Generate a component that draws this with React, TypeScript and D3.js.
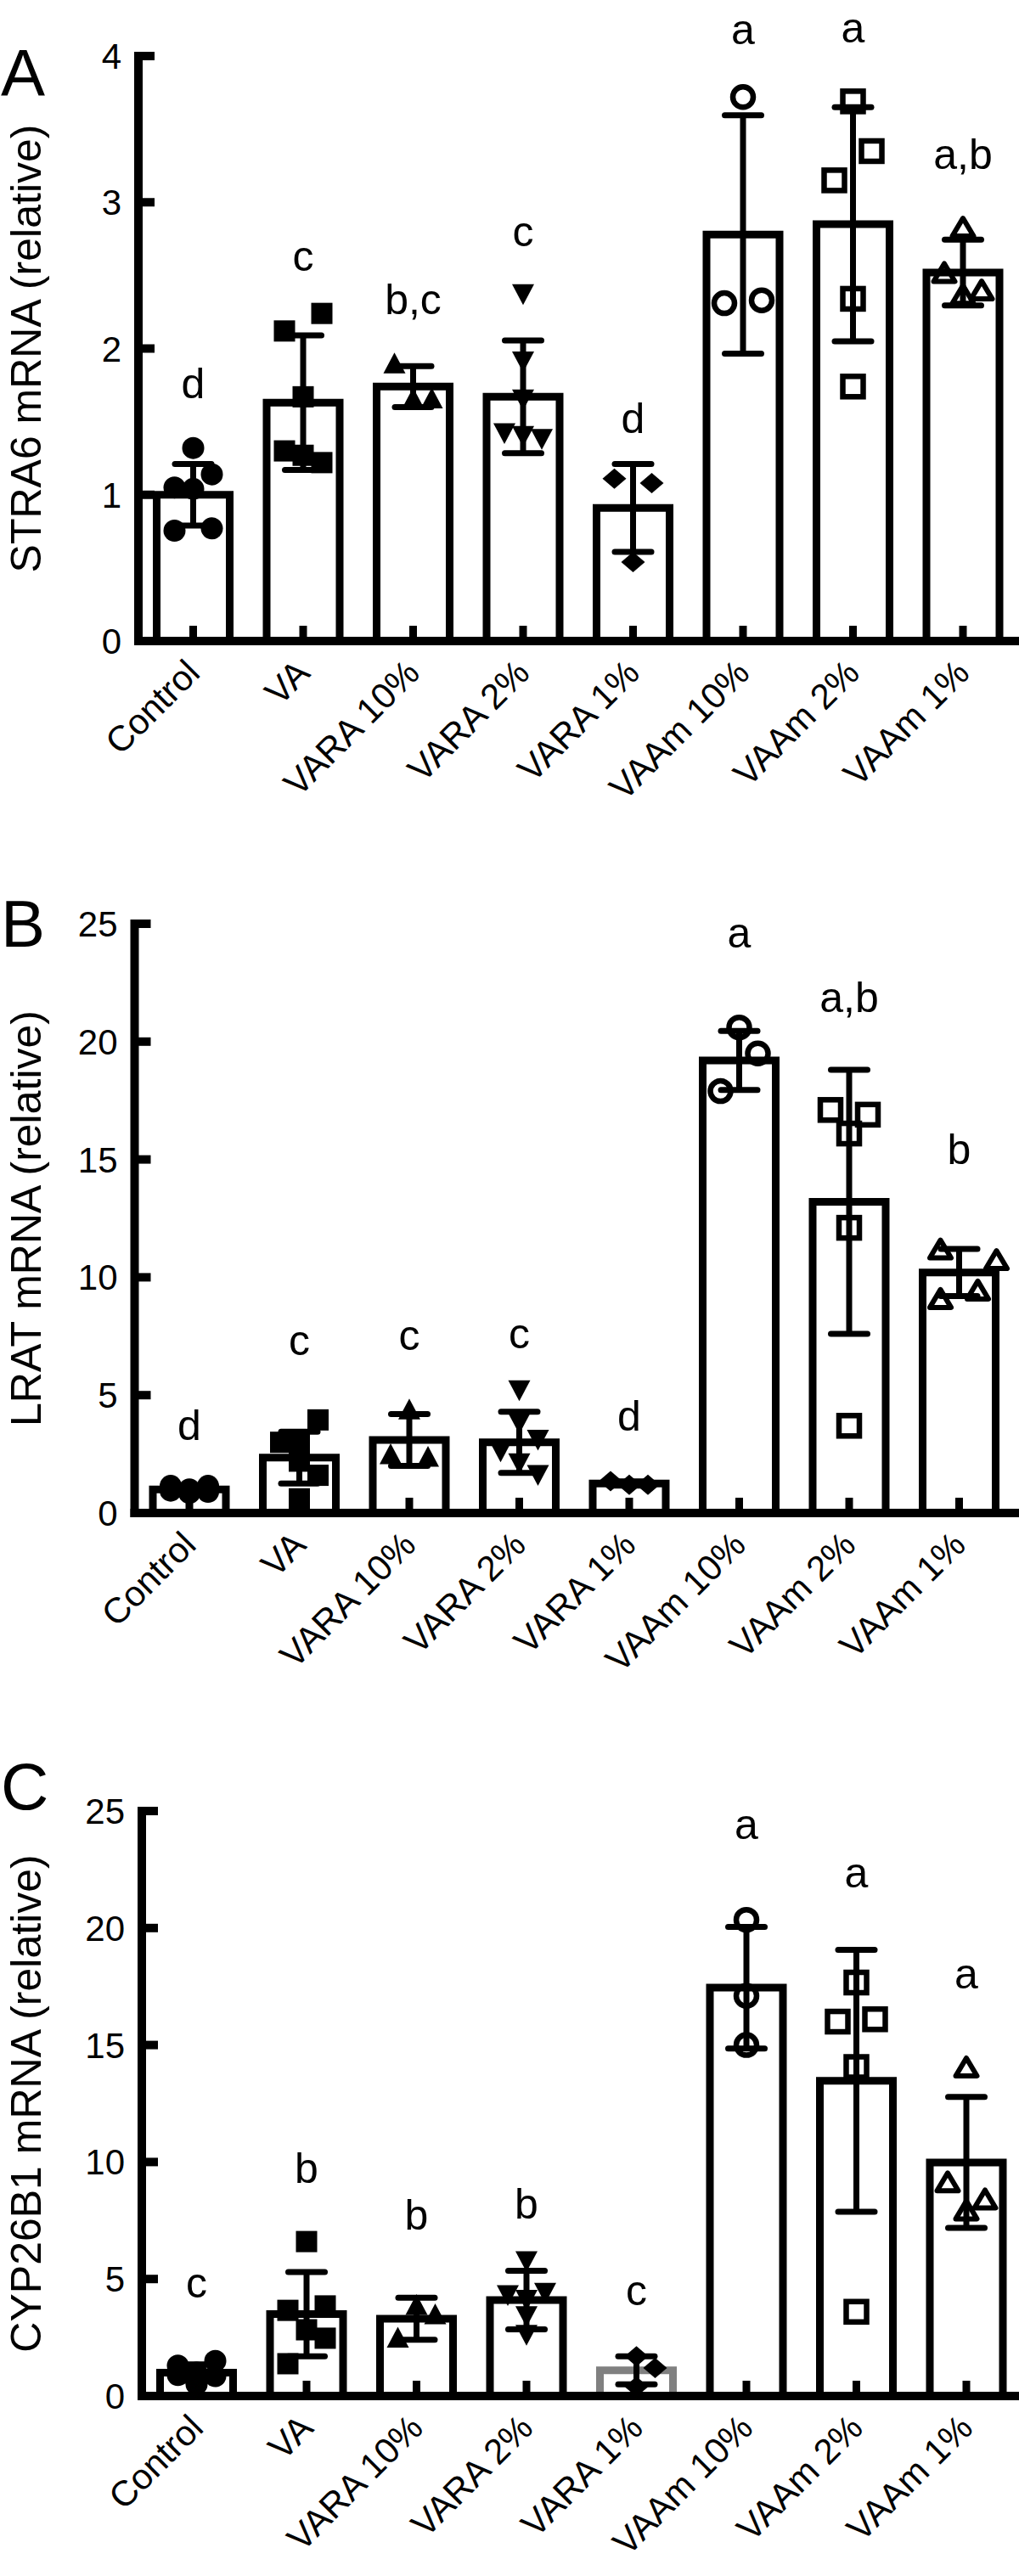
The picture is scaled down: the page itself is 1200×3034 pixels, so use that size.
import React from "react";
import * as d3 from "d3";

const categories = ["Control", "VA", "VARA 10%", "VARA 2%", "VARA 1%", "VAAm 10%", "VAAm 2%", "VAAm 1%"];
const markerKinds = ["circle", "square", "triUp", "triDown", "diamond", "openCircle", "openSquare", "openTriUp"];

// Panel A: STRA6
const stra6Ticks = [0, 1, 2, 3, 4];
const stra6Mean = [1.0, 1.63, 1.74, 1.67, 0.91, 2.78, 2.85, 2.52];
const stra6Sd = [0.21, 0.46, 0.14, 0.385, 0.3, 0.815, 0.8, 0.225];
const stra6Points = [
  [1.32, 1.14, 1.05, 1.04, 0.755, 0.77],
  [2.12, 2.24, 1.67, 1.3, 1.27, 1.22],
  [1.9, 1.66, 1.66],
  [2.37, 1.91, 1.65, 1.42, 1.4, 1.38],
  [1.11, 1.08, 0.54],
  [3.72, 2.31, 2.33],
  [3.69, 3.35, 3.15, 2.34, 1.74],
  [2.83, 2.52, 2.4, 2.37],
];
const stra6Slots = [
  [0, 1, -1, 0, -1, 1],
  [-1, 1, 0, -1, 0, 1],
  [-1, 0, 1],
  [0, 0, 0, -1, 0, 1],
  [-1, 1, 0],
  [0, -1, 1],
  [0, 1, -1, 0, 0],
  [0, -1, 1, 0],
];
const stra6Letters = ["d", "c", "b,c", "c", "d", "a", "a", "a,b"];
const stra6LetterAt = [1.66, 2.53, 2.235, 2.7, 1.42, 4.08, 4.09, 3.23];

// Panel B: LRAT
const lratTicks = [0, 5, 10, 15, 20, 25];
const lratMean = [1.0, 2.35, 3.1, 3.0, 1.25, 19.2, 13.2, 10.2];
const lratSd = [0.15, 1.1, 1.1, 1.3, 0.09, 1.25, 5.6, 1.0];
const lratPoints = [
  [1.15, 1.15, 1.0, 0.95, 0.9, 0.85],
  [3.95, 3.0, 2.9, 2.2, 1.6, 0.6],
  [4.4, 2.5, 2.4],
  [5.2, 3.8, 3.1, 2.6, 2.1, 1.6],
  [1.35, 1.2, 1.2],
  [20.6, 19.5, 17.9],
  [17.1, 16.9, 16.1, 12.1, 3.7],
  [11.2, 10.75, 9.46, 9.1],
];
const lratSlots = [
  [-1, 1, 0, -1, 1, 0],
  [1, -1, 0, 0, 1, 0],
  [0, -1, 1],
  [0, 0, 1, -1, 0, 1],
  [-1, 0, 1],
  [0, 1, -1],
  [-1, 1, 0, 0, 0],
  [-1, 2, 1, -1],
];
const lratLetters = ["d", "c", "c", "c", "d", "a", "a,b", "b"];
const lratLetterAt = [3.1, 6.7, 6.9, 7.0, 3.5, 24.0, 21.25, 14.8];

// Panel C: CYP26B1
const cypTicks = [0, 5, 10, 15, 20, 25];
const cypMean = [1.0, 3.5, 3.3, 4.1, 1.1, 17.45, 13.47, 9.98];
const cypSd = [0.35, 1.8, 0.9, 1.25, 0.6, 2.6, 5.6, 2.8];
const cypPoints = [
  [1.3, 1.5, 1.0, 0.9, 0.85, 0.5],
  [6.6, 3.66, 3.85, 2.83, 2.47, 1.38],
  [3.9, 3.5, 2.5],
  [5.75, 4.4, 4.3, 4.1, 3.4, 2.6],
  [1.7, 1.2, 0.4],
  [20.35, 17.1, 15.0],
  [17.67, 16.0, 16.1, 14.06, 3.6],
  [14.06, 9.15, 8.42, 7.95],
];
const cypSlots = [
  [-1, 1, 0, -1, 1, 0],
  [0, -1, 1, 0, 1, -1],
  [0, 1, -1],
  [0, 1, -1, 0, 0, 0],
  [0, 1, 0],
  [0, 0, 0],
  [0, -1, 1, 0, 0],
  [0, -1, 1, 0],
];
const cypLetters = ["c", "b", "b", "b", "c", "a", "a", "a"];
const cypLetterAt = [4.2, 9.1, 7.1, 7.6, 3.9, 23.8, 21.75, 17.4];

const FONT = "'Liberation Sans', Arial, Helvetica, sans-serif";

type Panel = {
  letter: string;
  letterBase: number;
  axisX: number;
  y0: number;
  yTop: number;
  ticks: number[];
  label: string;
  mean: number[];
  sd: number[];
  points: number[][];
  slots: number[][];
  letters: string[];
  letterAt: number[];
  grayBars: string[];
};

const panels: Panel[] = [
  {
    letter: "A", letterBase: 113, axisX: 163, y0: 755, yTop: 66, ticks: stra6Ticks,
    label: "STRA6 mRNA (relative)", mean: stra6Mean, sd: stra6Sd, points: stra6Points,
    slots: stra6Slots, letters: stra6Letters, letterAt: stra6LetterAt, grayBars: [],
  },
  {
    letter: "B", letterBase: 1115, axisX: 158.5, y0: 1782, yTop: 1088, ticks: lratTicks,
    label: "LRAT mRNA (relative)", mean: lratMean, sd: lratSd, points: lratPoints,
    slots: lratSlots, letters: lratLetters, letterAt: lratLetterAt, grayBars: [],
  },
  {
    letter: "C", letterBase: 2131, axisX: 167, y0: 2822, yTop: 2133, ticks: cypTicks,
    label: "CYP26B1 mRNA (relative)", mean: cypMean, sd: cypSd, points: cypPoints,
    slots: cypSlots, letters: cypLetters, letterAt: cypLetterAt, grayBars: ["VARA 1%"],
  },
];

function Marker({ kind, cx, cy }: { kind: string; cx: number; cy: number }) {
  switch (kind) {
    case "circle":
      return <circle cx={cx} cy={cy} r={13} fill="#000" />;
    case "square":
      return <rect x={cx - 12.5} y={cy - 12.5} width={25} height={25} fill="#000" />;
    case "triUp":
      return <path d={`M${cx},${cy - 12.5}L${cx + 13},${cy + 12}L${cx - 13},${cy + 12}Z`} fill="#000" />;
    case "triDown":
      return <path d={`M${cx},${cy + 12.5}L${cx + 13},${cy - 12}L${cx - 13},${cy - 12}Z`} fill="#000" />;
    case "diamond":
      return <path d={`M${cx},${cy - 12}L${cx + 14},${cy}L${cx},${cy + 12}L${cx - 14},${cy}Z`} fill="#000" />;
    case "openCircle":
      return <circle cx={cx} cy={cy} r={12} fill="none" stroke="#000" strokeWidth={6.5} />;
    case "openSquare":
      return <rect x={cx - 12} y={cy - 12} width={24} height={24} fill="none" stroke="#000" strokeWidth={6.5} />;
    default:
      return (
        <path d={`M${cx},${cy - 10.5}L${cx + 12.5},${cy + 10.5}L${cx - 12.5},${cy + 10.5}Z`}
          fill="none" stroke="#000" strokeWidth={6} strokeLinejoin="round" />
      );
  }
}

function PanelView({ p }: { p: Panel }) {
  const first = p.axisX + 64.5;
  const x = d3.scalePoint<string>().domain(categories).range([first, first + 129.5 * (categories.length - 1)]);
  const yMax = p.ticks[p.ticks.length - 1];
  const y = d3.scaleLinear().domain([0, yMax]).range([p.y0, p.yTop]);
  const barHalf = 43;
  const slotStep = 22;
  const capHalf = 21.5;
  const midY = (p.y0 + p.yTop) / 2;

  return (
    <g>
      <text x={1} y={p.letterBase} fontSize={78} fontFamily={FONT}>{p.letter}</text>
      <text transform={`translate(48,${midY}) rotate(-90)`} textAnchor="middle" fontSize={50} fontFamily={FONT}>
        {p.label}
      </text>
      {categories.map((c, i) => {
        const cx = x(c) as number;
        const gray = p.grayBars.includes(c);
        return (
          <path key={"bar" + c}
            d={`M${cx - barHalf},${p.y0}V${y(p.mean[i])}H${cx + barHalf}V${p.y0}`}
            fill="none" stroke={gray ? "#808080" : "#000"} strokeWidth={9} strokeLinejoin="miter" />
        );
      })}
      {categories.map((c, i) => {
        const cx = x(c) as number;
        return p.points[i].map((v, j) => (
          <Marker key={"pt" + c + j} kind={markerKinds[i]} cx={cx + p.slots[i][j] * slotStep} cy={y(v)} />
        ));
      })}
      {categories.map((c, i) => {
        const cx = x(c) as number;
        const hi = y(p.mean[i] + p.sd[i]);
        const lo = y(Math.max(0, p.mean[i] - p.sd[i]));
        return (
          <g key={"eb" + c} stroke="#000" strokeWidth={7} strokeLinecap="round">
            <line x1={cx} x2={cx} y1={hi} y2={lo} strokeLinecap="butt" />
            <line x1={cx - capHalf} x2={cx + capHalf} y1={hi} y2={hi} />
            <line x1={cx - capHalf} x2={cx + capHalf} y1={lo} y2={lo} />
          </g>
        );
      })}
      {categories.map((c) => {
        const cx = x(c) as number;
        return <line key={"xt" + c} x1={cx} x2={cx} y1={p.y0} y2={p.y0 - 18} stroke="#000" strokeWidth={9} />;
      })}
      <line x1={p.axisX} x2={p.axisX} y1={p.yTop - 5} y2={p.y0 + 5} stroke="#000" strokeWidth={10} />
      <line x1={p.axisX - 5} x2={1200} y1={p.y0} y2={p.y0} stroke="#000" strokeWidth={10} />
      {p.ticks.map((t) => (
        <g key={"yt" + t}>
          <line x1={p.axisX} x2={p.axisX + 19} y1={y(t)} y2={y(t)} stroke="#000" strokeWidth={10} />
          <text x={p.axisX - 20} y={y(t) + 15} textAnchor="end" fontSize={42} fontFamily={FONT}>{t}</text>
        </g>
      ))}
      {categories.map((c) => {
        const cx = (x(c) as number) + 10;
        return (
          <text key={"xl" + c} transform={`translate(${cx},${p.y0 + 40}) rotate(-45)`} textAnchor="end"
            fontSize={42} fontFamily={FONT}>{c}</text>
        );
      })}
      {categories.map((c, i) => (
        <text key={"sl" + c} x={x(c) as number} y={y(p.letterAt[i])} textAnchor="middle" fontSize={50} fontFamily={FONT}>
          {p.letters[i]}
        </text>
      ))}
    </g>
  );
}

export default function App() {
  return (
    <svg width={1200} height={3034} viewBox="0 0 1200 3034"
      style={{ position: "absolute", left: 0, top: 0, display: "block", background: "#fff" }}>
      <rect x={0} y={0} width={1200} height={3034} fill="#fff" />
      {panels.map((p) => <PanelView key={p.letter} p={p} />)}
    </svg>
  );
}
